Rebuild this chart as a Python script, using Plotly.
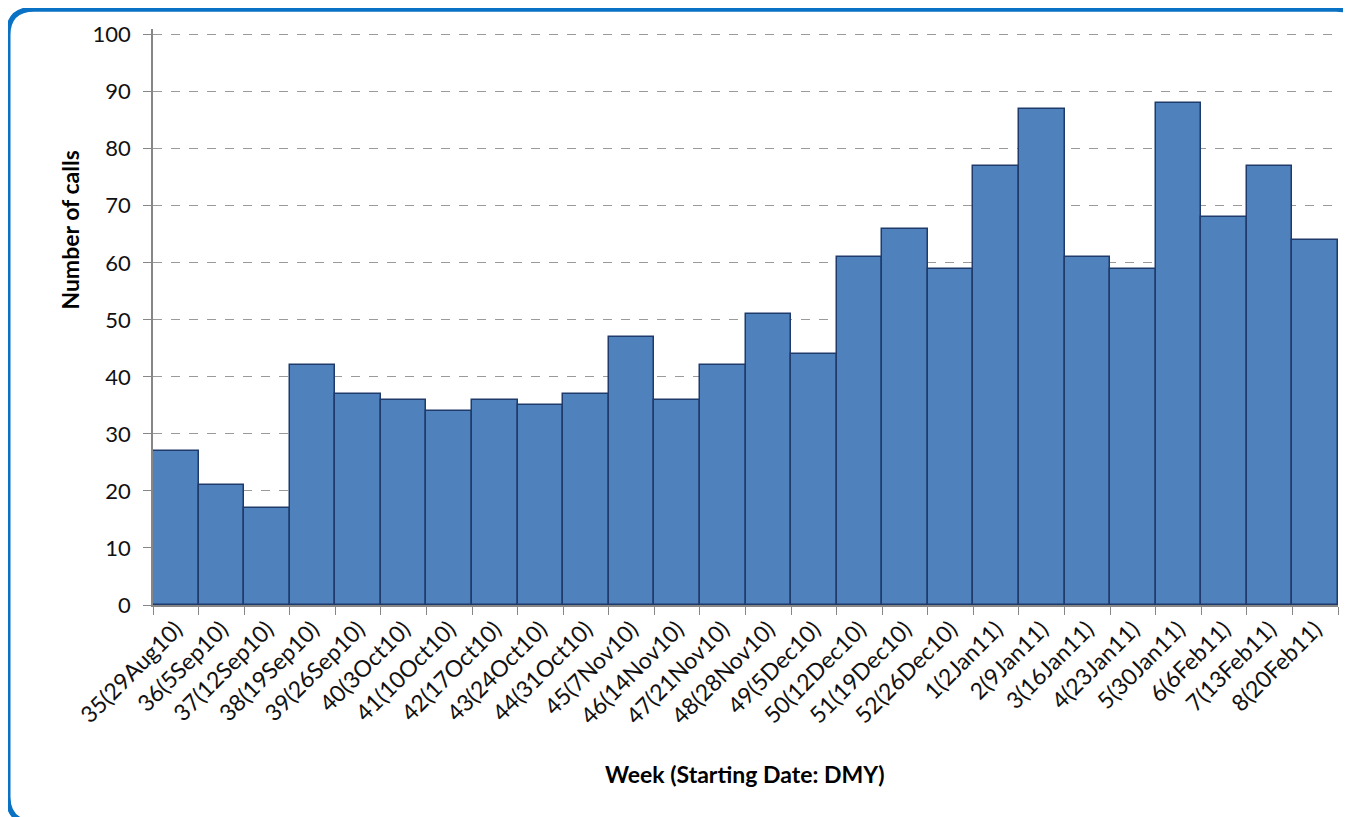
import plotly.graph_objects as go

weeks = [
    "35(29Aug10)", "36(5Sep10)", "37(12Sep10)", "38(19Sep10)", "39(26Sep10)",
    "40(3Oct10)", "41(10Oct10)", "42(17Oct10)", "43(24Oct10)", "44(31Oct10)",
    "45(7Nov10)", "46(14Nov10)", "47(21Nov10)", "48(28Nov10)", "49(5Dec10)",
    "50(12Dec10)", "51(19Dec10)", "52(26Dec10)", "1(2Jan11)", "2(9Jan11)",
    "3(16Jan11)", "4(23Jan11)", "5(30Jan11)", "6(6Feb11)", "7(13Feb11)",
    "8(20Feb11)",
]
calls = [27, 21, 17, 42, 37, 36, 34, 36, 35, 37, 47, 36, 42, 51, 44,
         61, 66, 59, 77, 87, 61, 59, 88, 68, 77, 64]

# page body has an 8px margin, so the figure is laid out 8px in from the window edge
OFF = 8
YMAX = 101  # a little headroom so the 100 gridline is drawn
W, H = 1351 - OFF, 817 - OFF
unit = (605 - 31) / 100
L, R, B = 153 - OFF, 13, 212
T = round(605 - YMAX * unit) - OFF
PW, PH = W - L - R, H - T - B


def px(x):
    return (x - OFF - L) / PW


def py(y):
    return (H - B - (y - OFF)) / PH


# rounded frame around the chart (right and bottom edges run off the page)
x0, x1, y0, y1, rad = 8, 1362, 5, 824, 26
frame = (
    f"M {px(x0)},{py(y0 + rad)} "
    f"Q {px(x0)},{py(y0)} {px(x0 + rad)},{py(y0)} "
    f"L {px(x1 - rad)},{py(y0)} "
    f"Q {px(x1)},{py(y0)} {px(x1)},{py(y0 + rad)} "
    f"L {px(x1)},{py(y1 - rad)} "
    f"Q {px(x1)},{py(y1)} {px(x1 - rad)},{py(y1)} "
    f"L {px(x0 + rad)},{py(y1)} "
    f"Q {px(x0)},{py(y1)} {px(x0)},{py(y1 - rad)} Z"
)

fig = go.Figure()
fig.add_trace(go.Bar(
    x=weeks, y=calls,
    marker=dict(color="#4F81BD", line=dict(color="#1F3A6B", width=1.5)),
    width=1,
))

font = "Lato, 'Open Sans', sans-serif"
fig.update_layout(
    width=W, height=H,
    plot_bgcolor="white", paper_bgcolor="white",
    margin=dict(l=L, r=R, t=T, b=B),
    showlegend=False,
    bargap=0,
    font=dict(family=font, size=22, color="#111111"),
    xaxis=dict(
        type="category",
        tickson="boundaries",
        ticks="outside", ticklen=8, tickcolor="#868686",
        tickangle=-45,
        tickfont=dict(size=23),
        showgrid=False,
        showline=True, linecolor="#868686", linewidth=1.5,
        range=[-0.5, len(weeks) - 0.5],
    ),
    yaxis=dict(
        range=[0, YMAX], tickvals=list(range(0, 101, 10)),
        ticks="outside", ticklen=8, tickcolor="#868686",
        tickfont=dict(size=22), ticklabelstandoff=8,
        showgrid=True, gridcolor="#9a9a9a", griddash="dash", gridwidth=1,
        showline=True, linecolor="#868686", linewidth=1.5,
        zeroline=False,
    ),
    shapes=[dict(
        type="path", path=frame, xref="paper", yref="paper",
        line=dict(color="#0A72C4", width=5), layer="above",
    )],
    annotations=[
        dict(text="<b>Number of calls</b>", xref="paper", yref="paper",
             x=px(70), y=py(228), textangle=-90, showarrow=False,
             font=dict(size=23, color="black"), xanchor="center", yanchor="middle"),
        dict(text="<b>Week (Starting Date: DMY)</b>", xref="paper", yref="paper",
             x=px(745), y=py(775), showarrow=False,
             font=dict(size=23, color="black"), xanchor="center", yanchor="middle"),
    ],
)

fig.write_html("out.html")
